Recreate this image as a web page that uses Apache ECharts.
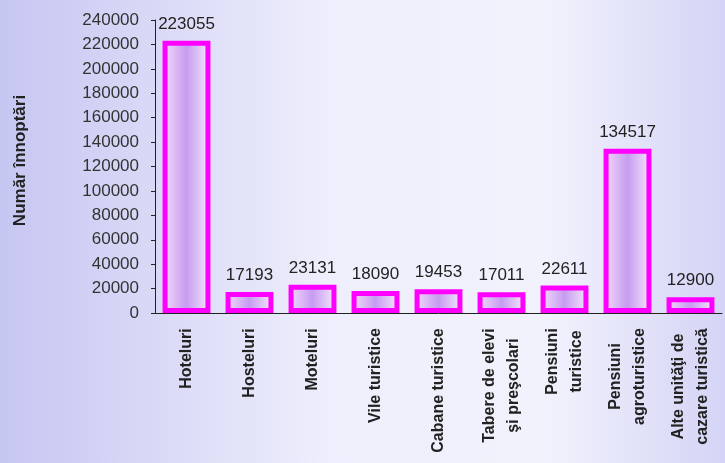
<!DOCTYPE html>
<html><head><meta charset="utf-8">
<script src="https://cdn.jsdelivr.net/npm/echarts@6/dist/echarts.min.js"></script>
<style>html,body{margin:0;padding:0;}#c{width:725px;height:463px;}</style>
</head><body><div id="c"></div>
<script>
const categories = ['Hoteluri','Hosteluri','Moteluri','Vile turistice','Cabane turistice','Tabere de elevi\nşi preşcolari','Pensiuni\nturistice','Pensiuni\nagroturistice','Alte unităţi de\ncazare turistică'];
const values = [223055,17193,23131,18090,19453,17011,22611,134517,12900];
const yAxisTitle = 'Număr înnoptări';

const FONT = 'Liberation Sans, Arial, sans-serif';
const LABEL_SIZE = 16;
// measure label widths so multi-line labels can be centred line by line while the block starts at the axis
const ctx = document.createElement('canvas').getContext('2d');
ctx.font = 'bold ' + LABEL_SIZE + 'px "Liberation Sans", Arial, sans-serif';
const rich = {};
categories.forEach((c, i) => {
  const w = Math.max(...c.split('\n').map(s => ctx.measureText(s).width));
  rich['l' + i] = {fontFamily:FONT,fontWeight:'bold',fontSize:LABEL_SIZE,color:'#222',lineHeight:24,padding:[0, Math.ceil(w), 0, 0]};
});

const chart = echarts.init(document.getElementById('c'));
const bg = new echarts.graphic.LinearGradient(0,0,1,0,[
  {offset:0,color:'#c6c6f2'},{offset:0.45,color:'#eeeefc'},{offset:0.75,color:'#f2f2fd'},{offset:1,color:'#d4d4f6'}]);
const fill = new echarts.graphic.LinearGradient(0,0,1,0,[
  {offset:0,color:'#f4dcfa'},{offset:0.5,color:'#c69cf0'},{offset:1,color:'#f6eafc'}]);
chart.setOption({
  backgroundColor: bg,
  animation:false,
  grid:{left:155,right:3,top:20,bottom:150},
  xAxis:{type:'category',data:categories,
    axisLine:{lineStyle:{color:'#222',width:1}},
    axisTick:{show:false},
    axisLabel:{rotate:90,interval:0,margin:15,align:'center',
      formatter: (v, i) => v.split('\n').map(s => '{l' + i + '|' + s + '}').join('\n'),
      rich: rich}},
  yAxis:{type:'value',min:0,max:240000,interval:20000,
    name:yAxisTitle,nameLocation:'middle',nameGap:126,
    nameTextStyle:{fontFamily:FONT,fontWeight:'bold',fontSize:17,color:'#222',padding:[0,0,0,12]},
    axisLine:{show:true,lineStyle:{color:'#222'}},
    axisTick:{show:true,inside:false,length:4,lineStyle:{color:'#222'}},
    splitLine:{show:false},
    axisLabel:{margin:16,formatter: v => String(v),fontFamily:FONT,fontSize:17,color:'#333'}},
  series:[{type:'bar',data:values,barWidth:'76%',
    itemStyle:{color:fill,borderColor:'#ff00ff',borderWidth:5},
    label:{show:true,position:'top',distance:8,fontFamily:FONT,fontSize:17,color:'#222'}}]
});
</script></body></html>
